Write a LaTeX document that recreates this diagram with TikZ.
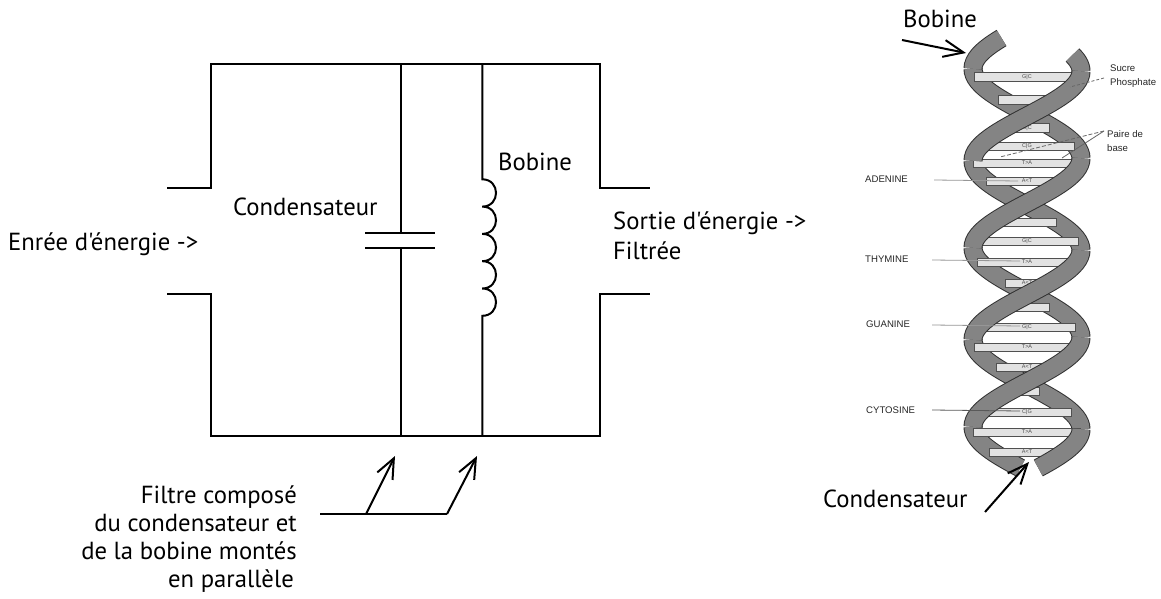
\documentclass[tikz,border=0pt]{standalone}
\usepackage{fontspec}
\setmainfont{PT Sans}[Ligatures=TeXOff]
\newfontfamily\dnafont{Liberation Sans}
\usetikzlibrary{arrows.meta}
\definecolor{ribbon}{RGB}{132,132,132}
\definecolor{ribbonedge}{RGB}{50,50,50}
\definecolor{barfill}{RGB}{226,226,226}
\definecolor{baredge}{RGB}{80,80,80}
\definecolor{leader}{RGB}{150,150,150}
\begin{document}
\begin{tikzpicture}[x=1pt,y=-1pt,
  declare function={xa(\t)=1027+54*sin(180+(\t-116)/179*360);
                    xb(\t)=1027+54*sin(180+(\t-203)/179*360);},
  wire/.style={line width=2pt, line join=miter},
  lbl/.style={font=\fontsize{24.7}{29}\selectfont, inner sep=0pt, anchor=base west},
  lblr/.style={font=\fontsize{24.7}{29}\selectfont, inner sep=0pt, anchor=base east},
  arr/.style={line width=2pt, -{Straight Barb[length=20pt,width=17pt]}},
  strand/.style={line width=1pt, draw=ribbonedge, double=ribbon, double distance=17pt},
  bp/.style={draw=baredge, fill=barfill, line width=0.6pt},
  tiny/.style={font=\dnafont\fontsize{5.5}{6}\selectfont, text=black!70, inner sep=0pt},
  dnalbl/.style={font=\dnafont\fontsize{9.6}{11}\selectfont, inner sep=0pt, anchor=base west, text=black!85},
  lead/.style={draw=leader, line width=0.8pt}
]
\useasboundingbox (0,0) rectangle (1161,599);
\fill[white] (0,0) rectangle (1161,599);

% ---------------- circuit ----------------
\coordinate (tl) at (210.7,64.5);
\coordinate (tr) at (600,64.5);
\coordinate (bl) at (210.7,435.7);
\coordinate (br) at (600,435.7);
\draw[wire] (167,188.3) -- (210.7,188.3) -- (tl) -- (tr) -- (600,188.3) -- (650,188.3);
\draw[wire] (167,294) -- (210.7,294) -- (bl) -- (br) -- (600,294) -- (650,294);
% capacitor
\coordinate (ctop) at (401,64.5);
\coordinate (cbot) at (401,435.7);
\draw[wire] (ctop) -- (401,232.7);
\draw[wire] (365,232.7) -- (435,232.7);
\draw[wire] (365,248) -- (435,248);
\draw[wire] (401,248) -- (cbot);
% inductor
\coordinate (ltop) at (482.3,64.5);
\coordinate (lbot) at (482.3,435.7);
\draw[wire] (ltop) -- (482.3,179.3)
  \foreach \k in {0,...,4}{
    .. controls (500.6,{179.3+27.3*\k}) and (500.6,{179.3+27.3*(\k+1)}) .. (482.3,{179.3+27.3*(\k+1)})
  } -- (lbot);

% labels
\node[lbl] (entree) at (8,250) {Enrée d'énergie ->};
\node[lbl] (cond) at (233,215) {Condensateur};
\node[lbl] (bob) at (498,170.7) {Bobine};
\node[lbl] (sortie1) at (613,229) {Sortie d'énergie ->};
\node[lbl] (sortie2) at (613,259) {Filtrée};
\node[lblr] (f1) at (297,503) {Filtre composé};
\node[lblr] (f2) at (297,531) {du condensateur et};
\node[lblr] (f3) at (297,559) {de la bobine montés};
\node[lblr] (f4) at (294,587) {en parallèle};

% filter arrows
\coordinate (h0) at (320,514);
\coordinate (h1) at (366,514);
\coordinate (h2) at (447,514);
\coordinate (a1) at (395,456);
\coordinate (a2) at (477,456);
\draw[wire] (h0) -- (h2);
\draw[arr] (h1) -- (a1);
\draw[arr] (h2) -- (a2);

% ---------------- DNA helix ----------------
% back halves
\draw[strand] plot[domain=55:71.25, samples=8, smooth] ({xa(\x)},\x);
\draw[strand] plot[domain=160.75:250.25, samples=30, smooth] ({xa(\x)},\x);
\draw[strand] plot[domain=339.75:429.25, samples=30, smooth] ({xa(\x)},\x);
\draw[strand] plot[domain=68.75:158.25, samples=30, smooth] ({xb(\x)},\x);
\draw[strand] plot[domain=247.75:337.25, samples=30, smooth] ({xb(\x)},\x);
\draw[strand] plot[domain=426.75:468, samples=15, smooth] ({xb(\x)},\x);
% base pairs
\foreach \yy/\lab in {77/G|C,100/{},128/G|C,146/C|G,163/T>A,181/A<T,203/{},222/{},241/G|C,262/T>A,283/A<T,307/{},327/G|C,347/T>A,367/A<T,391/{},412/C|G,432/T>A,452/A<T}{
  \pgfmathsetmacro\dx{abs(54*sin(180+(\yy-116)/179*360))}
  \draw[bp] ({1027-\dx},{\yy-4.2}) rectangle ({1027+\dx},{\yy+4.2});
  \node[tiny] (bp\yy) at (1027,\yy) {\lab};
}
% front halves
\draw[strand] plot[domain=71.25:160.75, samples=30, smooth] ({xa(\x)},\x);
\draw[strand] plot[domain=250.25:339.75, samples=30, smooth] ({xa(\x)},\x);
\draw[strand] plot[domain=429.25:468, samples=15, smooth] ({xa(\x)},\x);
\draw[strand] plot[domain=38:68.75, samples=10, smooth] ({xb(\x)},\x);
\draw[strand] plot[domain=158.25:247.75, samples=30, smooth] ({xb(\x)},\x);
\draw[strand] plot[domain=337.25:426.75, samples=30, smooth] ({xb(\x)},\x);

% DNA labels and leaders
\node[dnalbl] (aden) at (865,182) {ADENINE};
\node[dnalbl] (thym) at (865,262) {THYMINE};
\node[dnalbl] (guan) at (866,327) {GUANINE};
\node[dnalbl] (cyto) at (866,413) {CYTOSINE};
\node[dnalbl] (sucre) at (1110,72) {Sucre};
\node[dnalbl] (phos) at (1110,86) {Phosphate};
\node[dnalbl] (paire) at (1107,138) {Paire de};
\node[dnalbl] (base) at (1107,151) {base};
\coordinate (adenE) at (1018,181);
\coordinate (thymE) at (1020,261);
\coordinate (guanE) at (1020,326);
\coordinate (cytoE) at (1020,411);
\draw[lead] (934,180) -- (adenE);
\draw[lead] (932,260) -- (thymE);
\draw[lead] (932,325) -- (guanE);
\draw[lead, draw=black!65] (932,410) -- (cytoE);
\coordinate (sp) at (1070,87);
\coordinate (pb1) at (1000,157);
\coordinate (pb2) at (1062,158);
\draw[lead, draw=black!60, dashed, dash pattern=on 3pt off 2pt] (1104,78) -- (sp);
\draw[lead, draw=black!60, dashed, dash pattern=on 4pt off 2pt] (1104,131) -- (pb1);
\draw[lead, draw=black!60] (1104,131) -- (pb2);

% DNA main labels and arrows
\node[lbl] (bob2) at (903,28) {Bobine};
\node[lbl] (cond2) at (823,507) {Condensateur};
\coordinate (bt) at (902,40);
\coordinate (bh) at (966,53);
\coordinate (ct) at (985,512);
\coordinate (ch) at (1029,462);
\draw[arr] (bt) -- (bh);
\draw[arr] (ct) -- (ch);
\end{tikzpicture}
\end{document}
